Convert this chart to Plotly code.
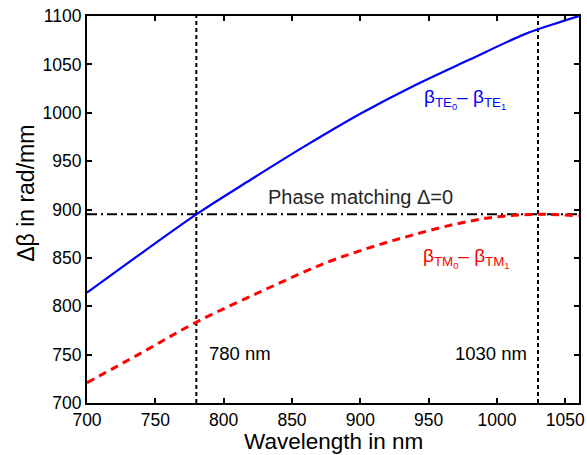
import plotly.graph_objects as go

# Data
wl_te = [700, 740, 780, 820, 860, 900, 940, 980, 1020, 1040, 1060]
dbeta_te = [814, 855, 895, 931, 966, 999, 1028.5, 1055, 1081, 1091, 1100]

wl_tm = [700, 740, 780, 830, 875, 909, 938, 970, 1000, 1030, 1060]
dbeta_tm = [721, 752, 783.5, 817, 845, 861.5, 873.5, 885, 892.5, 895, 893.5]

phase_x = [700, 1060]
phase_y = [895, 895]

mark_wl = [780, 1030]
mark_labels = ["780 nm", "1030 nm"]
y_span = [700, 1100]

x_ticks = [700, 750, 800, 850, 900, 950, 1000, 1050]
y_ticks = [700, 750, 800, 850, 900, 950, 1000, 1050, 1100]

FONT = "Liberation Sans, Arial, Helvetica, sans-serif"

fig = go.Figure()

# vertical marker lines
for w in mark_wl:
    fig.add_trace(go.Scatter(x=[w, w], y=y_span, mode="lines",
                             line=dict(color="black", width=2, dash="4px,3px"),
                             showlegend=False, hoverinfo="skip"))

# phase matching line
fig.add_trace(go.Scatter(x=phase_x, y=phase_y, mode="lines",
                         line=dict(color="black", width=2, dash="10px,4px,2px,4px"),
                         showlegend=False, hoverinfo="skip"))

fig.add_trace(go.Scatter(x=wl_te, y=dbeta_te, mode="lines",
                         line=dict(color="#0000ff", width=2.2, shape="spline"),
                         showlegend=False))
fig.add_trace(go.Scatter(x=wl_tm, y=dbeta_tm, mode="lines",
                         line=dict(color="#ff0000", width=3, shape="spline", dash="8px,5.5px"),
                         showlegend=False))

# annotations
fig.add_annotation(x=900, y=913, text="Phase matching \u0394=0", showarrow=False,
                   xanchor="center", yanchor="middle",
                   font=dict(family=FONT, size=20, color="#262626"))
fig.add_annotation(x=976.5, y=1030, text="\u03b2<sub>TE<sub>0</sub></sub>\u2013 \u03b2<sub>TE<sub>1</sub></sub>",
                   showarrow=False, xanchor="center", yanchor="top",
                   font=dict(family=FONT, size=19, color="#0000ff"))
fig.add_annotation(x=977.5, y=865, text="\u03b2<sub>TM<sub>0</sub></sub>\u2013 \u03b2<sub>TM<sub>1</sub></sub>",
                   showarrow=False, xanchor="center", yanchor="top",
                   font=dict(family=FONT, size=19, color="#ff0000"))
fig.add_annotation(x=788, y=751.5, text=mark_labels[0], showarrow=False,
                   xanchor="left", yanchor="middle",
                   font=dict(family=FONT, size=18.5, color="black"))
fig.add_annotation(x=1023.5, y=751.5, text=mark_labels[1], showarrow=False,
                   xanchor="right", yanchor="middle",
                   font=dict(family=FONT, size=18.5, color="black"))

# axis titles
fig.add_annotation(xref="paper", yref="paper", x=0.5, y=-0.1,
                   text="Wavelength in nm", showarrow=False,
                   xanchor="center", yanchor="middle",
                   font=dict(family=FONT, size=22.5, color="black"))
fig.add_annotation(xref="paper", yref="paper", x=-0.124, y=0.543,
                   text="\u0394\u03b2 in rad/mm", showarrow=False, textangle=-90,
                   xanchor="center", yanchor="middle",
                   font=dict(family=FONT, size=23, color="black"))

axis_common = dict(showgrid=False, zeroline=False, showline=True, linecolor="black",
                   linewidth=2, mirror="ticks", ticks="inside", ticklen=5,
                   tickwidth=1.5, tickcolor="black", automargin=False,
                   tickfont=dict(family=FONT, size=17.5, color="black"))

fig.update_xaxes(range=[700, 1060], tickvals=x_ticks, ticktext=[str(v) for v in x_ticks],
                 **axis_common)
fig.update_yaxes(range=[700, 1100], tickvals=y_ticks, ticktext=[str(v) for v in y_ticks],
                 **axis_common)

fig.update_layout(width=587, height=455, plot_bgcolor="white", paper_bgcolor="white",
                  margin=dict(l=87, r=8, t=16, b=52), showlegend=False)

# remove the default page margin so the figure fills the window exactly
fig.write_html("out.html", config={"displayModeBar": False},
               post_script="document.body.style.margin='0';document.body.style.overflow='hidden';")
